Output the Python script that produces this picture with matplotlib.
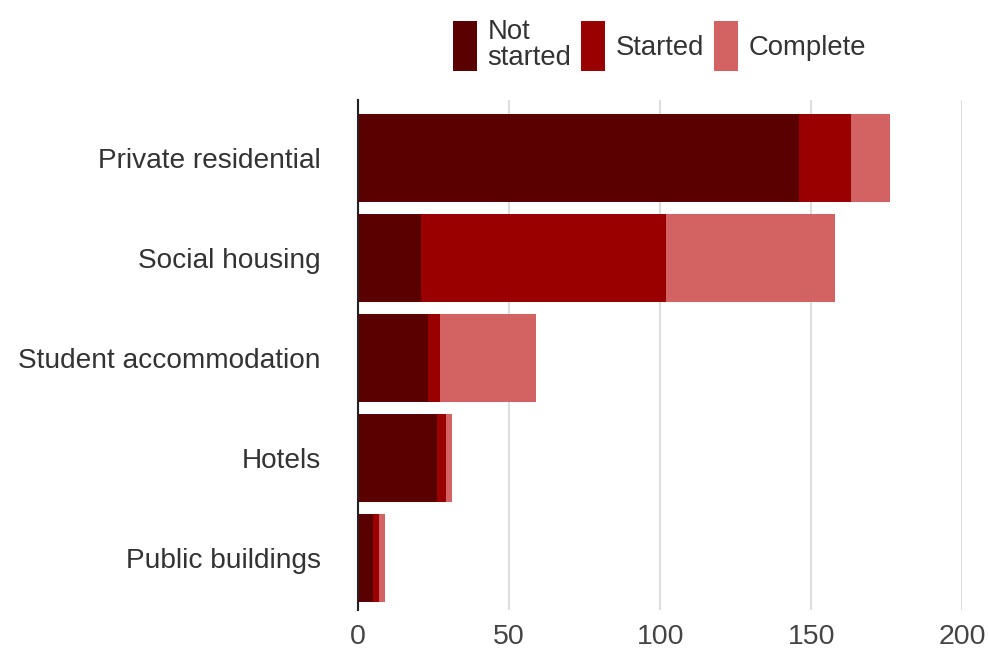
import matplotlib
matplotlib.use("Agg")
import matplotlib.pyplot as plt
import numpy as np

plt.rcParams["font.family"] = ["Liberation Sans", "DejaVu Sans"]

CATEGORIES = ["Private residential", "Social housing", "Student accommodation",
              "Hotels", "Public buildings"]
NOT_STARTED = [146, 21, 23, 26, 5]
STARTED = [17, 81, 4, 3, 2]
COMPLETE = [13, 56, 32, 2, 2]
SERIES = ["Not\nstarted", "Started", "Complete"]
COLORS = ["#5b0000", "#990000", "#d36262"]
XTICKS = [0, 50, 100, 150, 200]

fig = plt.figure(figsize=(9.89, 6.51), dpi=100)
ax = fig.add_axes([0.362, 0.063, 0.611, 0.783])

ys = np.arange(len(CATEGORIES))
left = np.zeros(len(CATEGORIES))
for vals, c, lab in zip([NOT_STARTED, STARTED, COMPLETE], COLORS, SERIES):
    ax.barh(ys, vals, left=left, height=0.88, color=c, label=lab, zorder=2)
    left += np.array(vals)

ax.set_ylim(len(CATEGORIES) - 0.48, -0.58)
ax.set_xlim(0, 200)
ax.set_yticks(ys)
ax.set_yticklabels(CATEGORIES, fontsize=20.2, color="#333333")
ax.set_xticks(XTICKS)
ax.set_xticklabels([str(t) for t in XTICKS], fontsize=20.5, color="#444444")
ax.tick_params(axis="y", length=0, pad=27)
ax.tick_params(axis="x", length=0, pad=10)
ax.grid(axis="x", color="#dddddd", lw=1.5, zorder=0)
for s in ["top", "right", "bottom"]:
    ax.spines[s].set_visible(False)
ax.spines["left"].set_color("#222222")
ax.spines["left"].set_linewidth(1.5)
ax.spines["left"].set_zorder(3)

leg = fig.legend(loc="center", bbox_to_anchor=(0.667, 0.931), ncol=3, frameon=False,
                 fontsize=19.8, handlelength=0.86, handleheight=2.4,
                 handletextpad=0.4, columnspacing=0.36, labelspacing=0.1,
                 borderaxespad=0, borderpad=0)
for t in leg.get_texts():
    t.set_color("#333333")
    t.set_linespacing(1.0)

fig.savefig("out.png", dpi=100)
